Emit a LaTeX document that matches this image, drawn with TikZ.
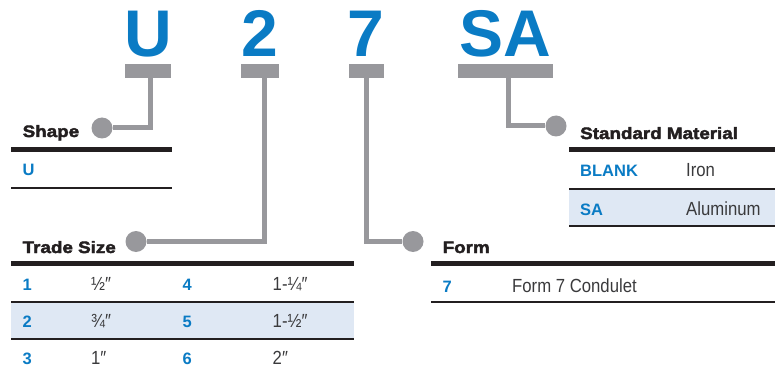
\documentclass[tikz,border=0pt]{standalone}
\usepackage{fontspec}
\setmainfont{Liberation Sans}
\newfontfamily\bigfamily{Liberation Sans}
\newfontfamily\blackfamily[UprightFont={* Bold},FakeStretch=1.14,FakeBold=2.5]{Liberation Sans}
\newfontfamily\condfamily[FakeStretch=0.88]{Liberation Sans}
\newfontfamily\codefamily{Liberation Sans}
\definecolor{codeblue}{HTML}{0A7BC4}
\definecolor{bargray}{HTML}{98989C}
\definecolor{ink}{HTML}{231F20}
\definecolor{valgray}{HTML}{3A3A3C}
\definecolor{bandblue}{HTML}{DFE8F4}
\tikzset{
  big/.style={font=\bigfamily\bfseries\fontsize{66}{66}\selectfont, text=codeblue, inner sep=0pt, anchor=base},
  bar/.style={rectangle, fill=bargray, inner sep=0pt, minimum height=14pt},
  conn/.style={draw=bargray, line width=5pt},
  dot/.style={circle, fill=bargray, minimum size=21pt, inner sep=0pt},
  ttl/.style={font=\blackfamily\fontsize{16.5}{16.5}\selectfont, text=ink, anchor=base west, inner sep=0pt},
  code/.style={font=\codefamily\bfseries\fontsize{16.5}{16.5}\selectfont, text=codeblue, anchor=base west, inner sep=0pt},
  val/.style={font=\condfamily\fontsize{19}{19}\selectfont, text=valgray, anchor=base west, inner sep=0pt},
  thickrule/.style={line width=5pt, draw=ink},
  thinrule/.style={line width=1.3pt, draw=ink},
  band/.style={fill=bandblue}
}
\begin{document}
\begin{tikzpicture}[x=1pt,y=-1pt]
\useasboundingbox (0,0) rectangle (775,371);
% big code letters
\node[big] (lU) at (148,57) {U};
\node[big] (l2) at (260,57) {2};
\node[big] (l7) at (366,57) {7};
\node[big] (lSA) at (505,57) {SA};
% bars
\node[bar, minimum width=46pt] (bU) at (148,71) {};
\node[bar, minimum width=38pt] (b2) at (260,71) {};
\node[bar, minimum width=35pt] (b7) at (366.5,71) {};
\node[bar, minimum width=95pt] (bSA) at (505.5,71) {};
% dots
\node[dot] (dU) at (102,128) {};
\node[dot] (d2) at (136,241.5) {};
\node[dot] (d7) at (413,241.5) {};
\node[dot] (dSA) at (556,126) {};
% connectors
\draw[conn] ([xshift=2pt]bU.south) |- (dU);
\draw[conn] ([xshift=4pt]b2.south) |- (d2);
\draw[conn] ([xshift=-0.5pt]b7.south) |- (d7);
\draw[conn] ([xshift=2.5pt]bSA.south) |- (dSA);
% bands
\fill[band] (11,302) rectangle (354,339);
\fill[band] (569,189) rectangle (775,226);
% Shape table
\node[ttl] (tShape) at (22.5,137) {Shape};
\draw[thickrule] (11,149.5) -- (172,149.5);
\node[code] (cU) at (22.5,176) {U};
\draw[thinrule] (11,188) -- (172,188);
% Trade size table
\node[ttl] (tTrade) at (22.5,253) {Trade Size};
\draw[thickrule] (11,263.5) -- (354,263.5);
\node[code] (c1) at (22.5,290) {1};
\node[val] (v1) at (91,290) {½″};
\node[code] (c4) at (182.5,290) {4};
\node[val] (v4) at (272.5,290) {1-¼″};
\draw[thinrule] (11,302) -- (354,302);
\node[code] (c2) at (22.5,327) {2};
\node[val] (v2) at (91,327) {¾″};
\node[code] (c5) at (182.5,327) {5};
\node[val] (v5) at (272.5,327) {1-½″};
\draw[thinrule] (11,339) -- (354,339);
\node[code] (c3) at (22.5,364) {3};
\node[val] (v3) at (91,364) {1″};
\node[code] (c6) at (182.5,364) {6};
\node[val] (v6) at (272.5,364) {2″};
% Standard material table
\node[ttl] (tMat) at (580,139) {Standard Material};
\draw[thickrule] (569,149.5) -- (775,149.5);
\node[code] (cBlank) at (580,177) {BLANK};
\node[val] (vIron) at (686,177) {Iron};
\draw[thinrule] (569,189) -- (775,189);
\node[code] (cSA) at (580,215) {SA};
\node[val] (vAl) at (686,215) {Aluminum};
\draw[thinrule] (569,226) -- (775,226);
% Form table
\node[ttl] (tForm) at (442.5,253) {Form};
\draw[thickrule] (431,263.5) -- (775,263.5);
\node[code] (c7) at (442.5,292) {7};
\node[val] (v7) at (512,292) {Form 7 Condulet};
\draw[thinrule] (431,302) -- (775,302);
\end{tikzpicture}
\end{document}
